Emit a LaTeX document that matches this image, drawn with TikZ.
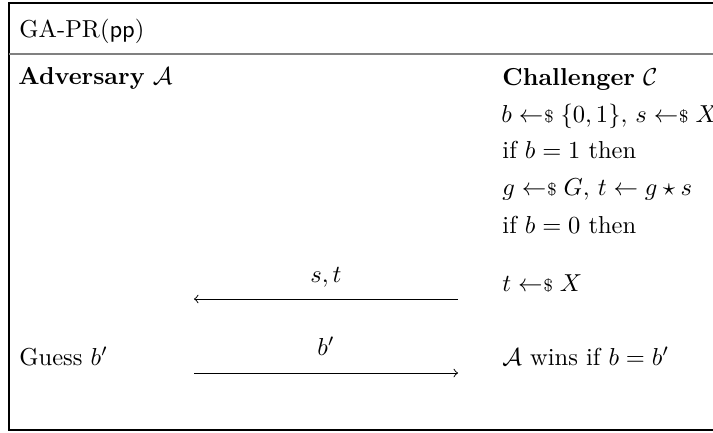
\documentclass[tikz,border=0pt]{standalone}
\usepackage{amsmath,amssymb}
\newcommand{\smpl}{\mathrel{\leftarrow\mkern-4.5mu{\scriptstyle\$}}}
\begin{document}
\begin{tikzpicture}[x=0.408pt,y=-0.408pt,
  txt/.style={anchor=base west,inner sep=0pt},
  msg/.style={anchor=base,inner sep=0pt},
  arr/.style={->,line width=0.4pt}]
\useasboundingbox (0,0) rectangle (713,432);
\draw[line width=0.5pt] (9,3) rectangle (718,430);
\draw[gray, line width=0.8pt] (9,54) -- (718,54);
\node[txt] (title) at (19,38) {GA-PR(\textsf{pp})};
\node[txt] (adv) at (18,84) {\textbf{Adversary} $\mathcal{A}$};
\node[txt] (ch) at (502,85) {\textbf{Challenger} $\mathcal{C}$};
\node[txt] (c1) at (501,122) {$b \smpl \{0,1\},\, s \smpl X$};
\node[txt] (c2) at (502,158) {if $b=1$ then};
\node[txt] (c3) at (502,195) {$g \smpl G,\, t \leftarrow g \star s$};
\node[txt] (c4) at (502,233) {if $b=0$ then};
\node[txt] (c5) at (502,291) {$t \smpl X$};
\node[txt] (guess) at (19,365) {Guess $b'$};
\node[txt] (win) at (502,365) {$\mathcal{A}$ wins if $b=b'$};
\coordinate (m1r) at (458,299);
\coordinate (m1l) at (194,299);
\coordinate (m2l) at (194,373);
\coordinate (m2r) at (458,373);
\draw[arr] (m1r) -- (m1l);
\draw[arr] (m2l) -- (m2r);
\node[msg] (lst) at (326,282) {$s,t$};
\node[msg] (lb) at (326,355) {$b'$};
\end{tikzpicture}
\end{document}
